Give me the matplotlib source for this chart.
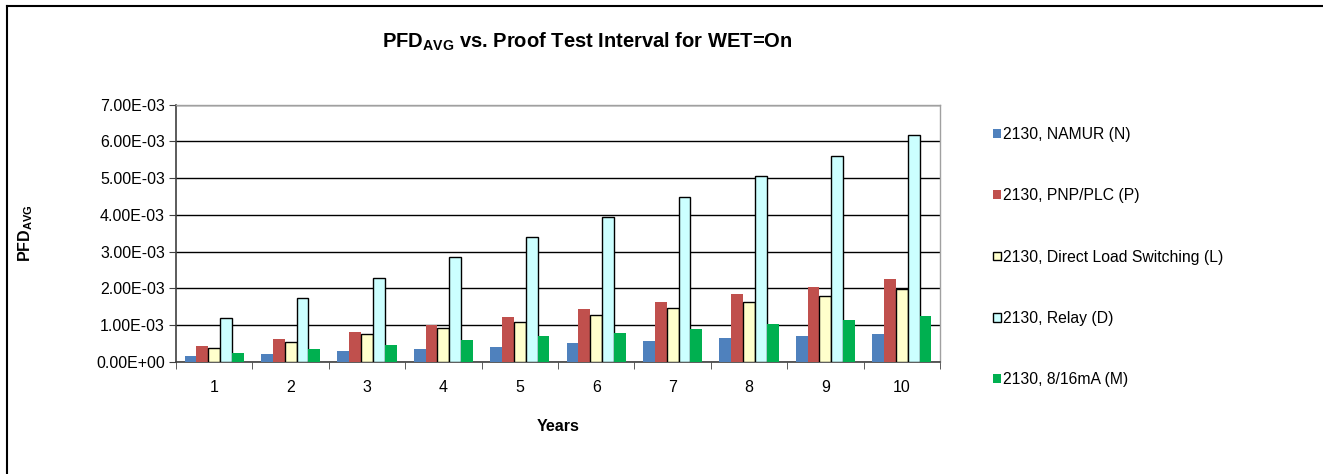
import matplotlib.pyplot as plt
import numpy as np
from matplotlib.lines import Line2D

plt.rcParams['font.family'] = ['Liberation Sans', 'DejaVu Sans']
plt.rcParams['mathtext.fontset'] = 'custom'
plt.rcParams['mathtext.rm'] = 'Liberation Sans'
plt.rcParams['mathtext.bf'] = 'Liberation Sans:bold'

years = [1, 2, 3, 4, 5, 6, 7, 8, 9, 10]
namur = [0.15e-3, 0.22e-3, 0.30e-3, 0.36e-3, 0.42e-3, 0.51e-3, 0.56e-3, 0.65e-3, 0.71e-3, 0.77e-3]
pnp_plc = [0.44e-3, 0.62e-3, 0.82e-3, 1.02e-3, 1.23e-3, 1.44e-3, 1.64e-3, 1.85e-3, 2.05e-3, 2.26e-3]
direct_load = [0.38e-3, 0.55e-3, 0.75e-3, 0.93e-3, 1.10e-3, 1.28e-3, 1.46e-3, 1.63e-3, 1.80e-3, 1.99e-3]
relay = [1.19e-3, 1.74e-3, 2.29e-3, 2.85e-3, 3.41e-3, 3.95e-3, 4.50e-3, 5.05e-3, 5.61e-3, 6.17e-3]
ma_8_16 = [0.24e-3, 0.36e-3, 0.47e-3, 0.60e-3, 0.71e-3, 0.80e-3, 0.91e-3, 1.03e-3, 1.15e-3, 1.26e-3]

labels = ["2130, NAMUR (N)", "2130, PNP/PLC (P)", "2130, Direct Load Switching (L)",
          "2130, Relay (D)", "2130, 8/16mA (M)"]
series = [namur, pnp_plc, direct_load, relay, ma_8_16]
colors = ["#4F81BD", "#C0504D", "#FFFFCC", "#CCFFFF", "#00B050"]
edges = [None, None, "black", "black", None]

fig = plt.figure(figsize=(13.23, 4.74), dpi=100)
ax = fig.add_axes([176/1323, 1 - 362/474, (940-176)/1323, (362-104.7)/474])

x = np.arange(len(years))
w = 0.155
for i, (vals, c, ec) in enumerate(zip(series, colors, edges)):
    if ec:
        ax.bar(x + (i - 2) * w, vals, w, color=c, edgecolor=ec, linewidth=1.0,
               label=labels[i], zorder=3)
    else:
        ax.bar(x + (i - 2) * w, vals, w, color=c, linewidth=0, label=labels[i], zorder=3)

ax.set_xlim(-0.5, len(years) - 0.5)
ax.set_ylim(0, 7e-3)
ax.set_yticks(np.arange(0, 7.01e-3, 1e-3))
ax.yaxis.set_major_formatter(plt.FuncFormatter(lambda v, p: "%.2E" % v))
ax.set_xticks(x)
ax.set_xticklabels([str(y) for y in years])
ax.set_xticks(np.arange(-0.5, len(years), 1), minor=True)
ax.tick_params(axis='x', which='major', length=0, labelsize=11.5, pad=13)
ax.tick_params(axis='x', which='minor', length=5, color='#404040', direction='out')
ax.tick_params(axis='y', length=5, color='#404040', labelsize=11.5, pad=3)
ax.grid(axis='y', color='black', linewidth=1.0, zorder=0)
ax.set_axisbelow(True)

for s in ['left', 'bottom']:
    ax.spines[s].set_color('#404040')
    ax.spines[s].set_linewidth(1.2)
for s in ['top', 'right']:
    ax.spines[s].set_color('#A0A0A0')
    ax.spines[s].set_linewidth(1.0)

ax.set_xlabel("Years", fontsize=11.5, fontweight='bold', labelpad=17)
fig.text(26/1323, 1 - 233/474, r"PFD$_{\mathbf{AVG}}$", rotation=90, fontsize=11.5,
         fontweight='bold', ha='center', va='center')
fig.text(587/1323, 1 - 42/474, r"PFD$_{\mathbf{AVG}}$ vs. Proof Test Interval for WET=On",
         fontsize=14.5, fontweight='bold', ha='center', va='center')

ax.legend(loc='upper left', bbox_to_anchor=(993/1323, 1 - 127/474),
          bbox_transform=fig.transFigure, frameon=False, fontsize=11.3,
          labelspacing=2.95, handlelength=0.5, handleheight=0.5, handletextpad=0.15,
          borderaxespad=0, borderpad=0)

fig.add_artist(Line2D([7/1323, 7/1323], [0, 1 - 6/474], color='black', linewidth=1.5,
                      transform=fig.transFigure))
fig.add_artist(Line2D([7/1323, 1], [1 - 6/474, 1 - 6/474], color='black', linewidth=1.5,
                      transform=fig.transFigure))

fig.savefig("out.png", dpi=100)
